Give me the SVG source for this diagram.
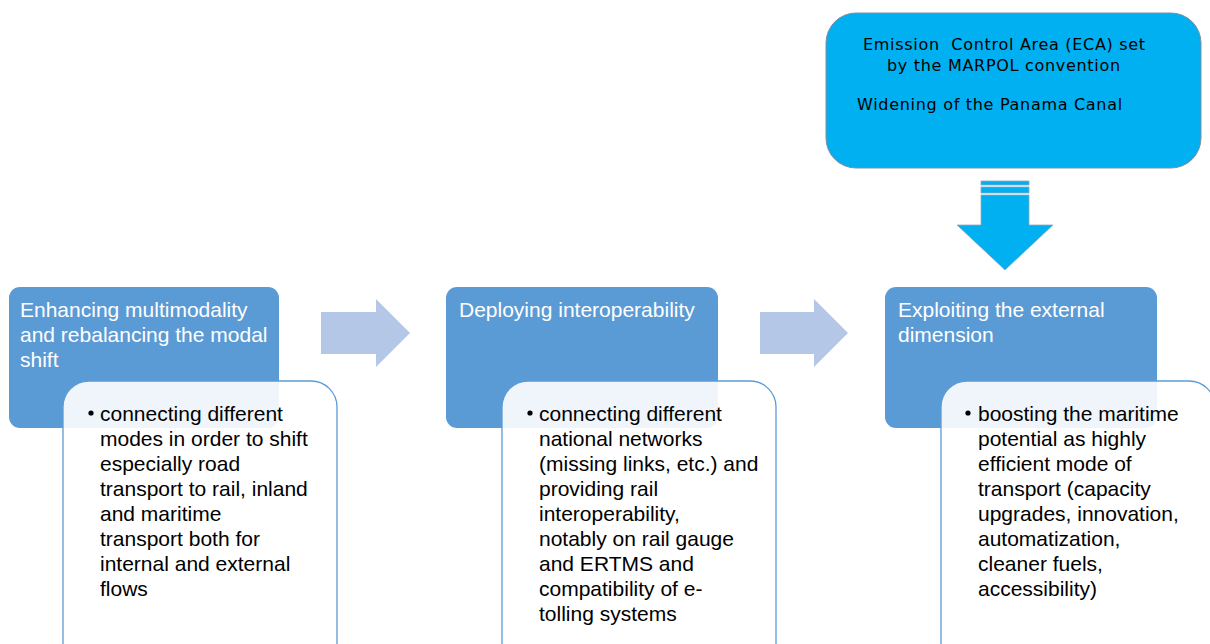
<svg xmlns="http://www.w3.org/2000/svg" width="1210" height="644" viewBox="0 0 1210 644">
<style>
.hdr{fill:#5b9bd5}
.sub{fill:#ffffff;fill-opacity:0.9;stroke:#5b9bd5;stroke-width:1.3}
.ht{font-family:"Liberation Sans",Arial,sans-serif;font-size:21px;fill:#ffffff}
.bt{font-family:"Liberation Sans",Arial,sans-serif;font-size:21px;fill:#000000}
.tt{font-family:"DejaVu Sans",Verdana,sans-serif;font-size:16px;letter-spacing:0.7px;fill:#000000}
.arr{fill:#b4c7e7}
</style>
<rect width="1210" height="644" fill="#ffffff"/>
<g id="connectors">
<polygon class="arr" points="321,312 376,312 376,299 410,333 376,367 376,354 321,354"/>
<polygon class="arr" points="760,312 814,312 814,299 848,333 814,367 814,354 760,354"/>
<g id="down-arrow" fill="#00b0f0" stroke="#8fa9c0" stroke-width="0.8">
<rect x="981" y="181" width="48" height="4"/>
<rect x="981" y="187" width="48" height="6"/>
<polygon points="981,195 1029,195 1029,225 1053,225 1005,270 957,225 981,225"/>
</g>
</g>
<g id="top-box">
<rect x="826" y="13" width="375" height="155" rx="30" ry="30" fill="#00b0f0" stroke="#7f8fa0" stroke-width="1"/>
<text class="tt" x="863" y="50" xml:space="preserve">Emission  Control Area (ECA) set</text>
<text class="tt" x="887" y="71">by the MARPOL convention</text>
<text class="tt" x="857" y="110">Widening of the Panama Canal</text>
</g>
<g id="node1">
<rect class="hdr" x="9" y="287" width="270" height="141" rx="11" ry="11"/>
<text class="ht" x="20" y="317">Enhancing multimodality</text>
<text class="ht" x="20" y="342">and rebalancing the modal</text>
<text class="ht" x="20" y="367">shift</text>
<rect class="sub" x="63" y="381" width="274" height="290" rx="26" ry="26"/>
<circle cx="91" cy="413" r="2.6" fill="#000"/>
<text class="bt" x="100" y="421">connecting different</text>
<text class="bt" x="100" y="446">modes in order to shift</text>
<text class="bt" x="100" y="471">especially road</text>
<text class="bt" x="100" y="496">transport to rail, inland</text>
<text class="bt" x="100" y="521">and maritime</text>
<text class="bt" x="100" y="546">transport both for</text>
<text class="bt" x="100" y="571">internal and external</text>
<text class="bt" x="100" y="596">flows</text>
</g>
<g id="node2">
<rect class="hdr" x="446" y="287" width="272" height="141" rx="11" ry="11"/>
<text class="ht" x="459" y="317">Deploying interoperability</text>
<rect class="sub" x="502" y="381" width="274" height="290" rx="26" ry="26"/>
<circle cx="530" cy="413" r="2.6" fill="#000"/>
<text class="bt" x="539" y="421">connecting different</text>
<text class="bt" x="539" y="446">national networks</text>
<text class="bt" x="539" y="471">(missing links, etc.) and</text>
<text class="bt" x="539" y="496">providing rail</text>
<text class="bt" x="539" y="521">interoperability,</text>
<text class="bt" x="539" y="546">notably on rail gauge</text>
<text class="bt" x="539" y="571">and ERTMS and</text>
<text class="bt" x="539" y="596">compatibility of e-</text>
<text class="bt" x="539" y="621">tolling systems</text>
</g>
<g id="node3">
<rect class="hdr" x="885" y="287" width="272" height="141" rx="11" ry="11"/>
<text class="ht" x="898" y="317">Exploiting the external</text>
<text class="ht" x="898" y="342">dimension</text>
<rect class="sub" x="941" y="381" width="274" height="290" rx="26" ry="26"/>
<circle cx="968" cy="413" r="2.6" fill="#000"/>
<text class="bt" x="978" y="421">boosting the maritime</text>
<text class="bt" x="978" y="446">potential as highly</text>
<text class="bt" x="978" y="471">efficient mode of</text>
<text class="bt" x="978" y="496">transport (capacity</text>
<text class="bt" x="978" y="521">upgrades, innovation,</text>
<text class="bt" x="978" y="546">automatization,</text>
<text class="bt" x="978" y="571">cleaner fuels,</text>
<text class="bt" x="978" y="596">accessibility)</text>
</g>
</svg>
